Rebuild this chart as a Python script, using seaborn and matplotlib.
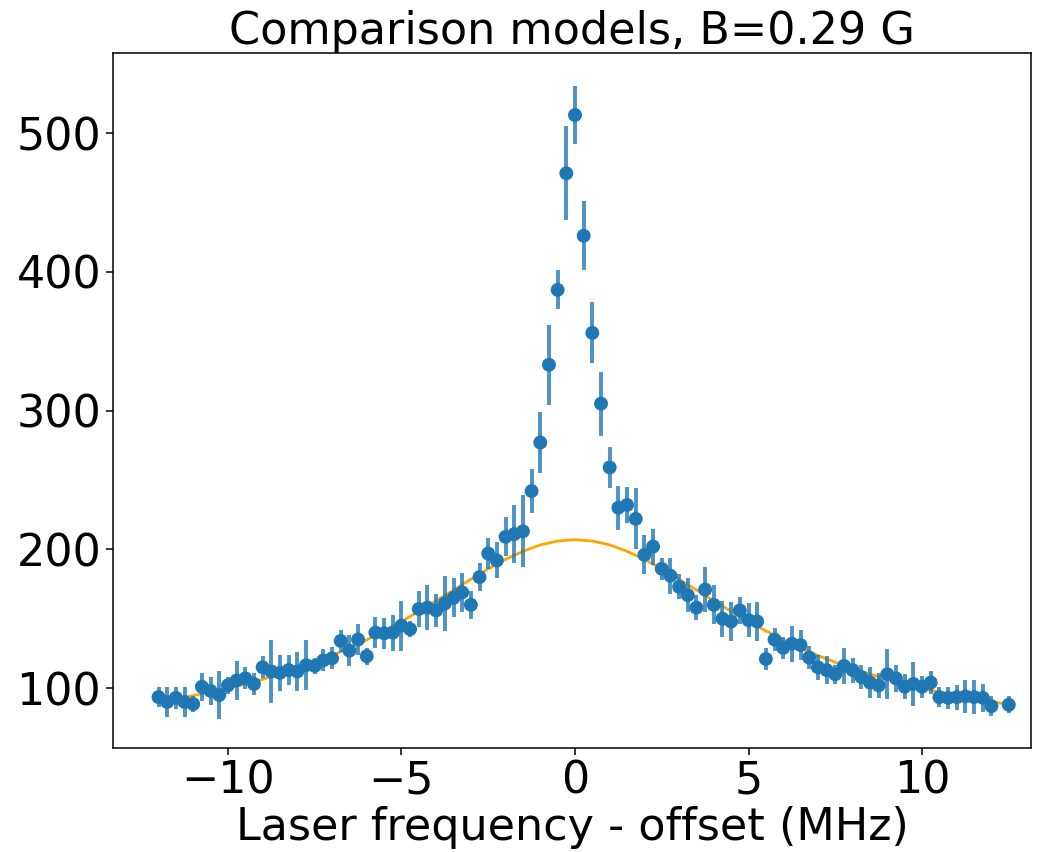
import matplotlib
matplotlib.use("Agg")
import matplotlib.pyplot as plt
import seaborn as sns
import pandas as pd

# Measured fluorescence counts vs. laser detuning
freq_mhz = [-12.0, -11.75, -11.5, -11.25, -11.0, -10.75, -10.5, -10.25, -10.0, -9.75,
            -9.5, -9.25, -9.0, -8.75, -8.5, -8.25, -8.0, -7.75, -7.5, -7.25,
            -7.0, -6.75, -6.5, -6.25, -6.0, -5.75, -5.5, -5.25, -5.0, -4.75,
            -4.5, -4.25, -4.0, -3.75, -3.5, -3.25, -3.0, -2.75, -2.5, -2.25,
            -2.0, -1.75, -1.5, -1.25, -1.0, -0.75, -0.5, -0.25, 0.0, 0.25,
            0.5, 0.75, 1.0, 1.25, 1.5, 1.75, 2.0, 2.25, 2.5, 2.75,
            3.0, 3.25, 3.5, 3.75, 4.0, 4.25, 4.5, 4.75, 5.0, 5.25,
            5.5, 5.75, 6.0, 6.25, 6.5, 6.75, 7.0, 7.25, 7.5, 7.75,
            8.0, 8.25, 8.5, 8.75, 9.0, 9.25, 9.5, 9.75, 10.0, 10.25,
            10.5, 10.75, 11.0, 11.25, 11.5, 11.75, 12.0, 12.5]

counts = [93.5, 90, 93, 90, 88.5, 101, 98, 95, 102, 105.5,
          107, 103, 115, 112, 111, 113, 112, 116.5, 116, 120,
          121.5, 134, 127, 135, 123, 140, 139.5, 140, 145, 142.5,
          157, 158, 156, 161, 165, 169, 160, 180, 197, 192,
          209, 211, 213, 242, 277, 333, 387, 471, 513, 426,
          356, 305, 259, 230, 232, 222, 196, 202, 186, 181,
          173, 167, 158, 171, 160, 150, 148, 156, 149, 148,
          121, 135, 129, 132, 131, 122, 115, 113, 110, 116,
          113, 108, 104, 102, 110, 107, 101, 103, 101, 104,
          93.5, 93, 93.5, 94, 93.5, 93, 87, 88]

count_err = [7, 11, 8, 11, 6, 10, 10, 17, 6, 14,
             8, 8, 8, 23, 13, 11, 14, 18, 6, 8,
             8, 8, 11, 11, 6, 11, 11, 13, 18, 6,
             13, 16, 12, 20, 14, 14, 10, 10, 11, 13,
             14, 21, 26, 16, 22, 29, 14, 34, 21, 25,
             22, 23, 15, 16, 13, 22, 14, 13, 8, 13,
             9, 12, 9, 16, 14, 13, 14, 10, 12, 14,
             8, 8, 8, 13, 11, 8, 9, 10, 7, 13,
             9, 9, 11, 9, 18, 10, 9, 16, 8, 8,
             7, 8, 9, 12, 12, 10, 7, 6]

# Broad comparison model evaluated on a coarse grid
model_freq = [-12.0, -11.5, -11.0, -10.5, -10.0, -9.5, -9.0, -8.5, -8.0, -7.5,
              -7.0, -6.5, -6.0, -5.5, -5.0, -4.5, -4.0, -3.5, -3.0, -2.5,
              -2.0, -1.5, -1.0, -0.5, 0.0, 0.5, 1.0, 1.5, 2.0, 2.5,
              3.0, 3.5, 4.0, 4.5, 5.0, 5.5, 6.0, 6.5, 7.0, 7.5,
              8.0, 8.5, 9.0, 9.5, 10.0, 10.5, 11.0, 11.5, 12.0, 12.5]
model_counts = [90.2, 92.3, 94.6, 97.2, 99.9, 103.0, 106.3, 110.1, 114.1, 118.6,
                123.5, 128.9, 134.8, 141.2, 148.0, 155.3, 162.9, 170.7, 178.4, 185.9,
                192.8, 198.6, 203.2, 206.0, 207.0, 206.0, 203.2, 198.6, 192.8, 185.9,
                178.4, 170.7, 162.9, 155.3, 148.0, 141.2, 134.8, 128.9, 123.5, 118.6,
                114.1, 110.1, 106.3, 103.0, 99.9, 97.2, 94.6, 92.3, 90.2, 88.3]

data = pd.DataFrame({"freq": freq_mhz, "counts": counts, "err": count_err})
model = pd.DataFrame({"freq": model_freq, "counts": model_counts})

sns.set_theme(style="ticks")
plt.rcParams["font.family"] = ["DejaVu Sans"]

fig = plt.figure(figsize=(10.41, 8.52), dpi=100)
ax = fig.add_axes([0.1086, 0.122, 0.8818, 0.8158])

blue = "#1f77b4"
sns.lineplot(data=model, x="freq", y="counts", color="orange", linewidth=2.0,
             ax=ax, zorder=2, sort=True)
ax.errorbar(data["freq"], data["counts"], yerr=data["err"], fmt="none",
            ecolor=blue, elinewidth=2.8, alpha=0.8, zorder=3)
sns.scatterplot(data=data, x="freq", y="counts", color=blue, s=100,
                edgecolor="none", linewidth=0, ax=ax, zorder=4)

ax.set_xlim(-13.31, 13.14)
ax.set_ylim(56.8, 557.7)
ax.set_xticks([-10, -5, 0, 5, 10])
ax.set_yticks([100, 200, 300, 400, 500])

for side in ["top", "right", "bottom", "left"]:
    ax.spines[side].set_visible(True)
    ax.spines[side].set_color("black")
    ax.spines[side].set_linewidth(1.1)

ax.tick_params(axis="both", labelsize=32, length=5, width=1.1,
               direction="out", color="black", labelcolor="black")
ax.set_xlabel("Laser frequency - offset (MHz)", fontsize=32, color="black",
              labelpad=2)
ax.set_ylabel("")
ax.set_title("Comparison models, B=0.29 G", fontsize=32, color="black", pad=6)
ax.grid(False)

fig.savefig("out.png", dpi=100, facecolor="white")
